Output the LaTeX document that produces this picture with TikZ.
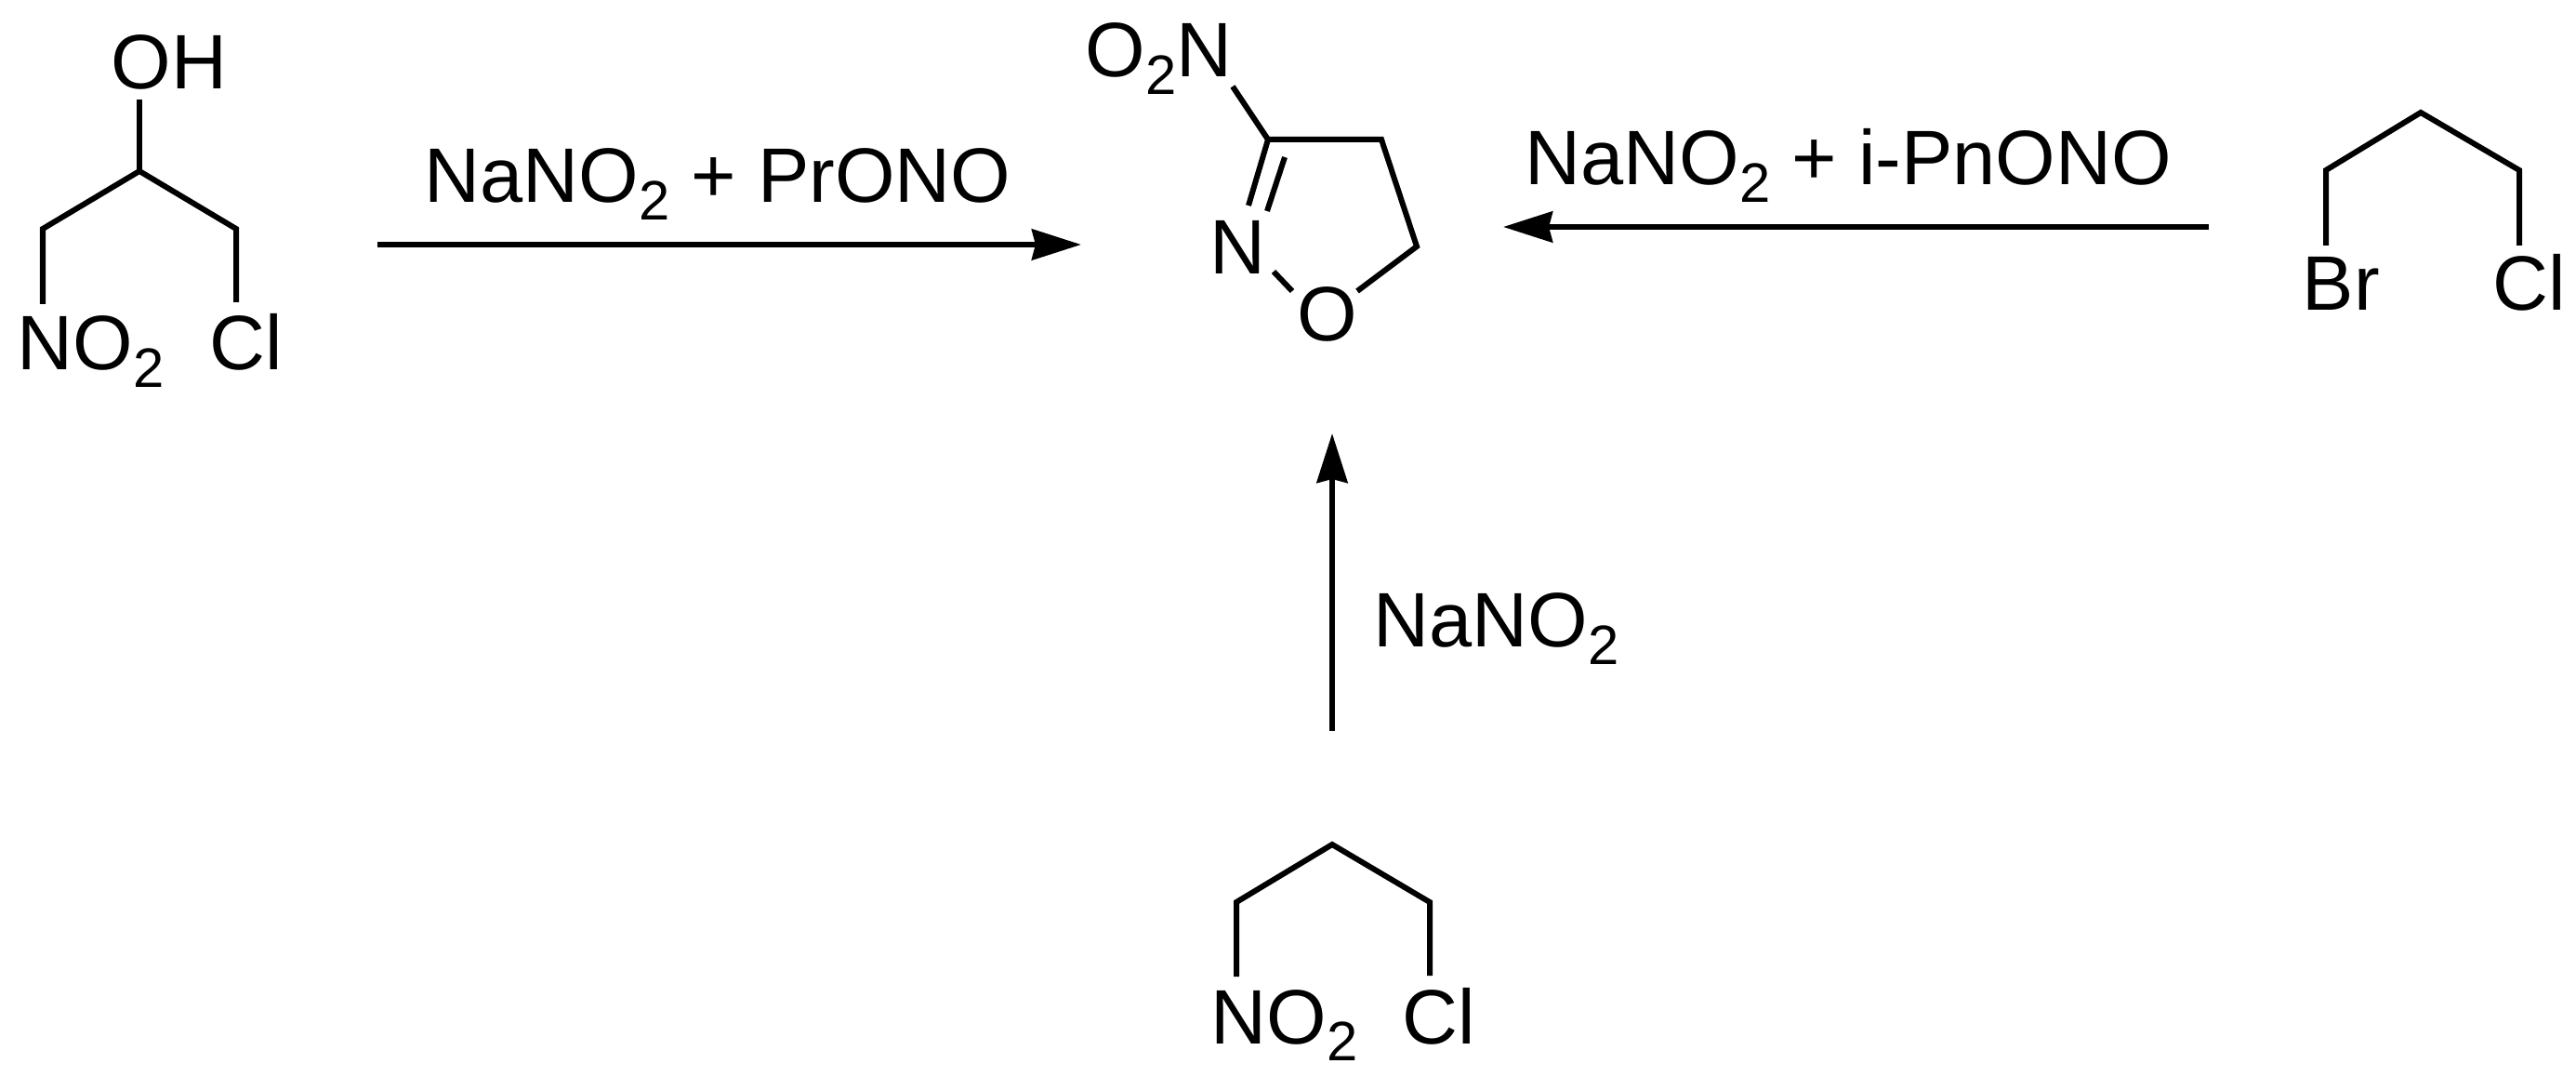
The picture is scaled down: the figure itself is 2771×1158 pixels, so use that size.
\documentclass[tikz,border=0pt]{standalone}
\usepackage{fontspec}
\setmainfont{Liberation Sans}
\usetikzlibrary{arrows.meta}
\newcommand{\subtwo}{\raisebox{-0.18cm}{\fontsize{17}{17}\selectfont 2}}
\tikzset{
  atom/.style={inner sep=0pt,anchor=base west,font=\fontsize{23.6}{24}\selectfont},
  bond/.style={line width=0.06cm},
  rxn/.style={line width=0.06cm,-{Stealth[length=0.53cm,width=0.33cm,inset=0.04cm]}}
}
\begin{document}
\begin{tikzpicture}[x=0.01cm,y=-0.01cm]
    \useasboundingbox (0,0) rectangle (2771,1158);
    % left chloronitropropanol
    \node[atom] (oh) at (119,96) {OH};
    \node[atom] (no1) at (18,398) {NO\subtwo};
    \node[atom] (cl1) at (225,398) {Cl};
    \coordinate (a0) at (150,107);
    \coordinate (a1) at (150,184);
    \coordinate (a2) at (46,246);
    \coordinate (a3) at (254,246);
    \coordinate (a4) at (46,327);
    \coordinate (a5) at (254,325);
    \draw[bond] (a0)--(a1);
    \draw[bond] (a4)--(a2)--(a1)--(a3)--(a5);
    % isoxazoline
    \node[atom] (ono) at (1167,83) {O\subtwo N};
    \node[atom] (nr) at (1301,295) {N};
    \node[atom] (or) at (1395,367) {O};
    \coordinate (b0) at (1326,93);
    \coordinate (b1) at (1364,150);
    \coordinate (b2) at (1486,150);
    \coordinate (b3) at (1524,265);
    \coordinate (b4) at (1460,313);
    \coordinate (b5) at (1343,221);
    \coordinate (b6) at (1382,169);
    \coordinate (b7) at (1363,227);
    \coordinate (b8) at (1370,292);
    \coordinate (b9) at (1390,313);
    \draw[bond] (b0)--(b1)--(b2)--(b3)--(b4);
    \draw[bond] (b1)--(b5) (b6)--(b7) (b8)--(b9);
    % bromochloropropane
    \node[atom] (br) at (2476,334) {Br};
    \node[atom] (cl2) at (2681,334) {Cl};
    \coordinate (c1) at (2604,121);
    \coordinate (c2) at (2502,183);
    \coordinate (c3) at (2710,183);
    \coordinate (c4) at (2502,264);
    \coordinate (c5) at (2710,264);
    \draw[bond] (c4)--(c2)--(c1)--(c3)--(c5);
    % chloronitropropane
    \node[atom] (no2) at (1302,1122) {NO\subtwo};
    \node[atom] (cl3) at (1508,1122) {Cl};
    \coordinate (d1) at (1433,908);
    \coordinate (d2) at (1330,970);
    \coordinate (d3) at (1538,970);
    \coordinate (d4) at (1330,1050);
    \coordinate (d5) at (1538,1049);
    \draw[bond] (d4)--(d2)--(d1)--(d3)--(d5);
    % arrows
    \node[atom] (lab1) at (456,218) {NaNO\subtwo{} + PrONO};
    \node[atom] (lab2) at (1640,199) {NaNO\subtwo{} + i-PnONO};
    \node[atom] (lab3) at (1477,696) {NaNO\subtwo};
    \coordinate (e1) at (406,263);
    \coordinate (e2) at (1163,263);
    \coordinate (f1) at (2376,244);
    \coordinate (f2) at (1617,244);
    \coordinate (g1) at (1433,786);
    \coordinate (g2) at (1433,466);
    \draw[rxn] (e1)--(e2);
    \draw[rxn] (f1)--(f2);
    \draw[rxn] (g1)--(g2);
\end{tikzpicture}
\end{document}
